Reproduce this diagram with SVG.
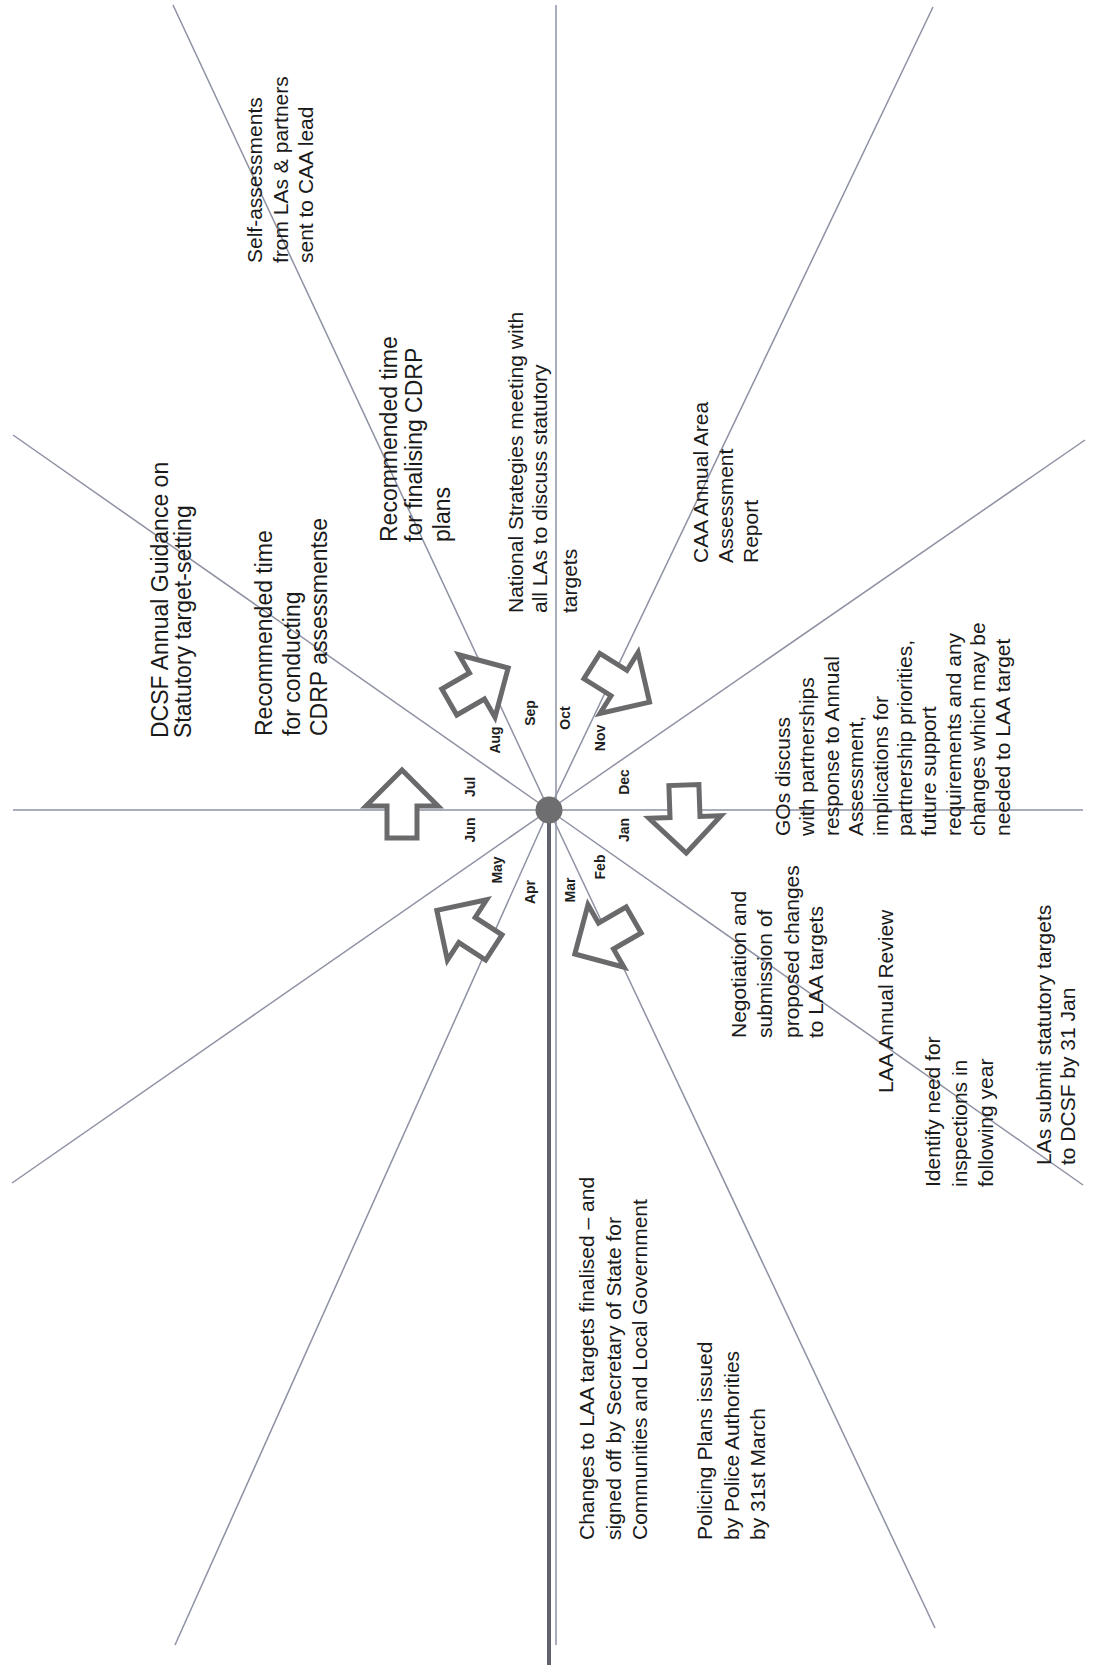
<svg xmlns="http://www.w3.org/2000/svg" width="1095" height="1665" viewBox="0 0 1095 1665">
<style>
.spoke{stroke:#8d91a2;stroke-width:1.5;fill:none}
.thick{stroke:#60626e;stroke-width:4;fill:none}
.arrow{fill:#ffffff;stroke:#6a6a6c;stroke-width:5;stroke-linejoin:miter}
.t21{font-family:"Liberation Sans",Arial,sans-serif;font-size:21px;fill:#1a1a1a}
.t23{font-family:"Liberation Sans",Arial,sans-serif;font-size:23px;fill:#1a1a1a}
.m{font-family:"Liberation Sans",Arial,sans-serif;font-size:14px;font-weight:bold;fill:#1e1e1e;text-anchor:middle}
</style>
<defs>
<polygon id="arr" points="36,0 0,-36 0,-15 -32,-15 -32,15 0,15 0,36"/>
</defs>
<rect x="0" y="0" width="1095" height="1665" fill="#ffffff"/>
<g id="connectors">
<line class="spoke" x1="556" y1="5" x2="556" y2="1645"/>
<line class="spoke" x1="13" y1="810" x2="1083" y2="810"/>
<line class="spoke" x1="549" y1="810" x2="173" y2="5"/>
<line class="spoke" x1="549" y1="810" x2="13" y2="435"/>
<line class="spoke" x1="549" y1="810" x2="12" y2="1183"/>
<line class="spoke" x1="549" y1="810" x2="175" y2="1645"/>
<line class="spoke" x1="549" y1="810" x2="935" y2="1628"/>
<line class="spoke" x1="549" y1="810" x2="1083" y2="1185"/>
<line class="spoke" x1="549" y1="810" x2="1085" y2="440"/>
<line class="spoke" x1="549" y1="810" x2="933" y2="7"/>
<line class="thick" x1="549" y1="810" x2="549" y2="1665"/>
</g>
<g id="cycle-arrows">
<use href="#arr" class="arrow" transform="translate(402,806) rotate(-90)"/>
<use href="#arr" class="arrow" transform="translate(477,686) rotate(-30)"/>
<use href="#arr" class="arrow" transform="translate(619,683) rotate(32)"/>
<use href="#arr" class="arrow" transform="translate(685,817) rotate(88)"/>
<use href="#arr" class="arrow" transform="translate(606,936) rotate(150)"/>
<use href="#arr" class="arrow" transform="translate(467,930) rotate(-147)"/>
</g>
<g id="hub"><circle cx="549" cy="810" r="13.5" fill="#6e6e70"/></g>
<g id="months">
<text class="m" transform="translate(500,740) rotate(-90)">Aug</text>
<text class="m" transform="translate(535,713) rotate(-90)">Sep</text>
<text class="m" transform="translate(570,718) rotate(-90)">Oct</text>
<text class="m" transform="translate(605,738) rotate(-90)">Nov</text>
<text class="m" transform="translate(475,787) rotate(-90)">Jul</text>
<text class="m" transform="translate(629,782) rotate(-90)">Dec</text>
<text class="m" transform="translate(475,830) rotate(-90)">Jun</text>
<text class="m" transform="translate(629,830) rotate(-90)">Jan</text>
<text class="m" transform="translate(502,870) rotate(-90)">May</text>
<text class="m" transform="translate(605,867) rotate(-90)">Feb</text>
<text class="m" transform="translate(535,892) rotate(-90)">Apr</text>
<text class="m" transform="translate(575,890) rotate(-90)">Mar</text>
</g>
<g id="self-assessments"><text class="t21" transform="translate(262,263) rotate(-90)"><tspan x="0" y="0">Self-assessments</tspan><tspan x="0" y="25.5">from LAs &amp; partners</tspan><tspan x="0" y="51">sent to CAA lead</tspan></text></g>
<g id="dcsf-guidance"><text class="t23" transform="translate(168,738) rotate(-90)"><tspan x="0" y="0">DCSF Annual Guidance on</tspan><tspan x="0" y="23">Statutory target-setting</tspan></text></g>
<g id="cdrp-assessments"><text class="t23" transform="translate(272,736) rotate(-90)"><tspan x="0" y="0">Recommended time</tspan><tspan x="0" y="28">for conducting</tspan><tspan x="0" y="55">CDRP assessmentse</tspan></text></g>
<g id="cdrp-plans"><text class="t23" transform="translate(397,542) rotate(-90)"><tspan x="0" y="0">Recommended time</tspan><tspan x="0" y="25">for finalising CDRP</tspan><tspan x="0" y="53">plans</tspan></text></g>
<g id="national-strategies"><text class="t21" transform="translate(523,613) rotate(-90)"><tspan x="0" y="0">National Strategies meeting with</tspan><tspan x="0" y="24">all LAs to discuss statutory</tspan><tspan x="0" y="54">targets</tspan></text></g>
<g id="caa-report"><text class="t21" transform="translate(708,563) rotate(-90)"><tspan x="0" y="0">CAA Annual Area</tspan><tspan x="0" y="25">Assessment</tspan><tspan x="0" y="50">Report</tspan></text></g>
<g id="gos-discuss"><text class="t21" transform="translate(790,836) rotate(-90)"><tspan x="0" y="0">GOs discuss</tspan><tspan x="0" y="24.4">with partnerships</tspan><tspan x="0" y="48.8">response to Annual</tspan><tspan x="0" y="73.2">Assessment,</tspan><tspan x="0" y="97.6">implications for</tspan><tspan x="0" y="122">partnership priorities,</tspan><tspan x="0" y="146.4">future support</tspan><tspan x="0" y="170.8">requirements and any</tspan><tspan x="0" y="195.2">changes which may be</tspan><tspan x="0" y="219.6">needed to LAA target</tspan></text></g>
<g id="negotiation"><text class="t21" transform="translate(746,1038) rotate(-90)"><tspan x="0" y="0">Negotiation and</tspan><tspan x="0" y="26">submission of</tspan><tspan x="0" y="53">proposed changes</tspan><tspan x="0" y="77">to LAA targets</tspan></text></g>
<g id="laa-review"><text class="t21" transform="translate(893,1093) rotate(-90)">LAA Annual Review</text></g>
<g id="identify-need"><text class="t21" transform="translate(940,1187) rotate(-90)"><tspan x="0" y="0">Identify need for</tspan><tspan x="0" y="27">inspections in</tspan><tspan x="0" y="53">following year</tspan></text></g>
<g id="las-submit"><text class="t21" transform="translate(1051,1165) rotate(-90)"><tspan x="0" y="0">LAs submit statutory targets</tspan><tspan x="0" y="24">to DCSF by 31 Jan</tspan></text></g>
<g id="laa-changes"><text class="t21" transform="translate(594,1540) rotate(-90)"><tspan x="0" y="0">Changes to LAA targets finalised – and</tspan><tspan x="0" y="27">signed off by Secretary of State for</tspan><tspan x="0" y="53">Communities and Local Government</tspan></text></g>
<g id="policing-plans"><text class="t21" transform="translate(712,1540) rotate(-90)"><tspan x="0" y="0">Policing Plans issued</tspan><tspan x="0" y="27">by Police Authorities</tspan><tspan x="0" y="53">by 31st March</tspan></text></g>
</svg>
